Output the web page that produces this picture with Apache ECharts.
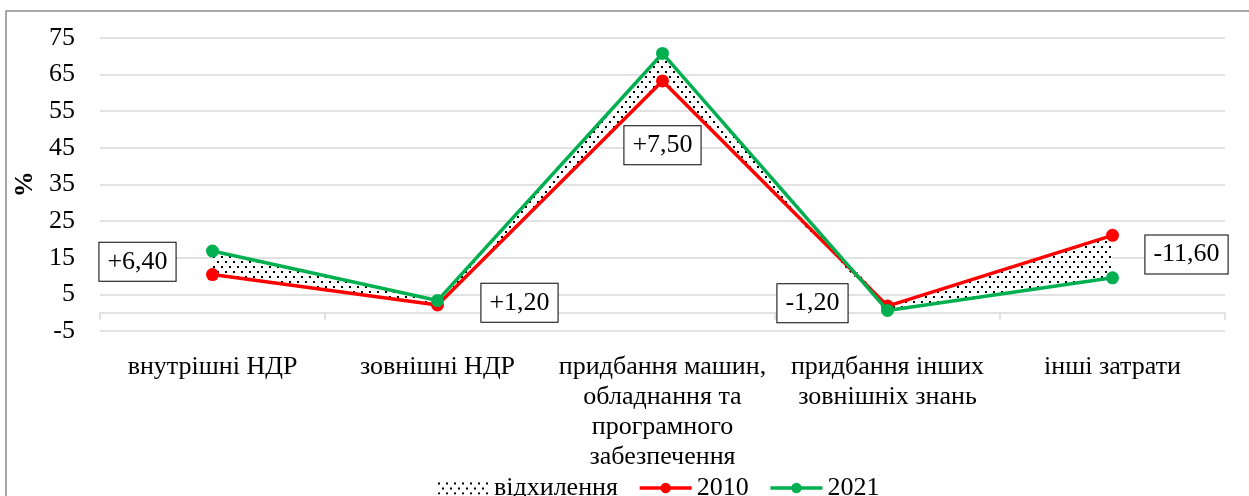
<!DOCTYPE html>
<html>
<head>
<meta charset="utf-8">
<script src="https://cdn.jsdelivr.net/npm/echarts@6/dist/echarts.min.js"></script>
<style>
  html, body { margin: 0; padding: 0; background: #fff; }
  #chart { width: 1249px; height: 496px; }
</style>
</head>
<body>
<div id="chart"></div>
<script>
// Structure of innovation expenditures, %
const categories = [
  'внутрішні НДР',
  'зовнішні НДР',
  'придбання машин,\nобладнання та\nпрограмного\nзабезпечення',
  'придбання інших\nзовнішніх знань',
  'інші затрати'
];
const values2010 = [10.4, 2.1, 63.2, 1.8, 21.1];
const values2021 = [16.8, 3.3, 70.7, 0.6, 9.5];
const yTicks = [-5, 5, 15, 25, 35, 45, 55, 65, 75];

const FONT = '"Liberation Serif", "Times New Roman", serif';

// deviation band: lower line + gap to the upper line
const bandBase = values2010.map((v, i) => Math.min(v, values2021[i]));
const bandGap = values2010.map((v, i) => Math.abs(values2021[i] - v));
const deviation = values2010.map((v, i) => values2021[i] - v);
const bandMid = bandBase.map((b, i) => b + bandGap[i] / 2);

// dotted fill
const dots = document.createElement('canvas');
dots.width = 8; dots.height = 10;
const g = dots.getContext('2d');
g.fillStyle = '#fff'; g.fillRect(0, 0, 8, 10);
g.fillStyle = '#000';
g.fillRect(1, 1, 2, 2);
g.fillRect(5, 6, 2, 2);
const dotFill = { image: dots, repeat: 'repeat' };

// pixel offsets of the deviation boxes from the band middle
const boxOffsets = [[-75, -1], [82, 0], [0, 78], [-75, -5], [74, -2]];

const fmtDev = d => (d >= 0 ? '+' : '-') + Math.abs(d).toFixed(2).replace('.', ',');

const chart = echarts.init(document.getElementById('chart'), null, { renderer: 'canvas' });
chart.setOption({
  animation: false,
  textStyle: { fontFamily: FONT },
  graphic: [{
    type: 'rect',
    shape: { x: 6, y: 11, width: 1400, height: 600 },
    style: { fill: 'none', stroke: '#8c8c8c', lineWidth: 1.5 },
    silent: true, z: -1
  }],
  grid: { left: 100, right: 24, top: 37.7, bottom: 165, containLabel: false, outerBoundsMode: 'none' },
  legend: {
    top: 470,
    left: 432,
    itemWidth: 52,
    itemHeight: 13,
    itemGap: 20,
    lineStyle: { width: 3.5 },
    textStyle: { fontFamily: FONT, fontSize: 26, color: '#000', lineHeight: 26 },
    data: [
      { name: 'відхилення', icon: 'rect', itemStyle: { color: dotFill, borderWidth: 0 } },
      { name: '2010' },
      { name: '2021' }
    ]
  },
  xAxis: {
    type: 'category',
    data: categories,
    boundaryGap: true,
    axisLine: { onZero: true, lineStyle: { color: '#d9d9d9', width: 1.5 } },
    axisTick: { show: true, length: 7, lineStyle: { color: '#d9d9d9', width: 1.5 } },
    axisLabel: {
      interval: 0,
      margin: 21,
      fontFamily: FONT,
      fontSize: 26,
      lineHeight: 30,
      color: '#000',
      align: 'center'
    },
    splitLine: { show: false }
  },
  yAxis: {
    type: 'value',
    min: -5,
    max: 75,
    interval: 10,
    name: '%',
    nameLocation: 'middle',
    nameRotate: 90,
    nameGap: 56,
    nameTextStyle: { fontFamily: FONT, fontSize: 26, fontWeight: 'bold', color: '#000' },
    axisLine: { show: false },
    axisTick: { show: false, customValues: yTicks },
    axisLabel: {
      customValues: yTicks, margin: 25, showMinLabel: true, showMaxLabel: true,
      hideOverlap: false, fontFamily: FONT, fontSize: 26, color: '#000'
    },
    splitLine: { show: true, lineStyle: { color: '#d9d9d9', width: 1.5 } }
  },
  series: [
    {
      name: 'base',
      type: 'line',
      stack: 'band',
      data: bandBase,
      symbol: 'none',
      lineStyle: { width: 0, opacity: 0 },
      silent: true,
      z: 1
    },
    {
      name: 'відхилення',
      type: 'line',
      stack: 'band',
      data: bandGap,
      symbol: 'none',
      itemStyle: { color: dotFill },
      lineStyle: { width: 0, opacity: 0 },
      areaStyle: { color: dotFill, opacity: 1 },
      silent: true,
      z: 1
    },
    {
      name: '2010',
      type: 'line',
      data: values2010,
      symbol: 'circle',
      symbolSize: 13,
      color: '#ff0000',
      itemStyle: { color: '#ff0000' },
      lineStyle: { color: '#ff0000', width: 3.5 },
      z: 3
    },
    {
      name: '2021',
      type: 'line',
      data: values2021,
      symbol: 'circle',
      symbolSize: 13,
      color: '#00b050',
      itemStyle: { color: '#00b050' },
      lineStyle: { color: '#00b050', width: 3.5 },
      z: 4
    },
    {
      name: 'labels',
      type: 'scatter',
      data: bandMid.map((m, i) => ({
        value: [i, m],
        label: { offset: boxOffsets[i] }
      })),
      symbolSize: 1,
      itemStyle: { color: 'rgba(0,0,0,0)', opacity: 1 },
      silent: true,
      z: 5,
      label: {
        show: true,
        position: 'inside',
        formatter: p => fmtDev(deviation[p.dataIndex]),
        fontFamily: FONT,
        fontSize: 26,
        color: '#000',
        textBorderWidth: 0,
        backgroundColor: '#fff',
        borderColor: '#000',
        borderWidth: 1,
        padding: [5, 8, 3, 8],
        lineHeight: 30
      }
    }
  ]
});
</script>
</body>
</html>
